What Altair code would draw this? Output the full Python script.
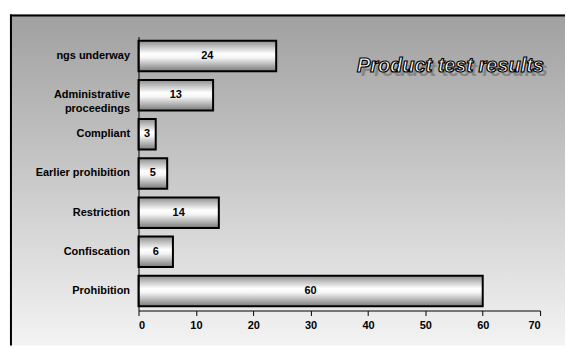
import altair as alt
import pandas as pd

categories = ["ngs underway", "Administrative proceedings", "Compliant",
              "Earlier prohibition", "Restriction", "Confiscation", "Prohibition"]
values = [24, 13, 3, 5, 14, 6, 60]
x_ticks = [0, 10, 20, 30, 40, 50, 60, 70]
title_text = "Product test results"

df = pd.DataFrame({"category": categories, "count": values})

W, H = 403, 275
FONT = "Liberation Sans"

bg_grad = alt.LinearGradient(
    gradient="linear", x1=0, x2=0, y1=0, y2=1,
    stops=[alt.GradientStop(color="#a0a0a0", offset=0),
           alt.GradientStop(color="#f3f3f3", offset=1)])

bar_grad = alt.LinearGradient(
    gradient="linear", x1=0, x2=0, y1=0, y2=1,
    stops=[alt.GradientStop(color="#8e8e8e", offset=0),
           alt.GradientStop(color="#ffffff", offset=0.42),
           alt.GradientStop(color="#f6f6f6", offset=0.55),
           alt.GradientStop(color="#7a7a7a", offset=1)])

one = pd.DataFrame({"t": [title_text]})

bg = alt.Chart(one).mark_rect(fill=bg_grad).encode(
    x=alt.value(-129), x2=alt.value(428), y=alt.value(-22), y2=alt.value(310))

left_border = alt.Chart(one).mark_rule(stroke="black", strokeWidth=2).encode(
    x=alt.value(-128), y=alt.value(-22), y2=alt.value(310))
top_border = alt.Chart(one).mark_rule(stroke="black", strokeWidth=2).encode(
    x=alt.value(-129), x2=alt.value(428), y=alt.value(-21))

y_enc = alt.Y("category:N", sort=categories,
              scale=alt.Scale(paddingInner=0.22, paddingOuter=0.11),
              axis=alt.Axis(title=None, ticks=False, labelPadding=9, zindex=1,
                            labelExpr="datum.label == 'Administrative proceedings' ? ['Administrative', 'proceedings'] : datum.label",
                            labelLineHeight=14))
x_enc = alt.X("count:Q", scale=alt.Scale(domain=[0, 70]),
              axis=alt.Axis(title=None, values=x_ticks, tickSize=5, grid=False,
                            labelPadding=4, zindex=1))

bars = alt.Chart(df).mark_bar(fill=bar_grad, stroke="black", strokeWidth=2).encode(
    y=y_enc, x=x_enc)

labels = alt.Chart(df).transform_calculate(mid="datum.count / 2").mark_text(
    font=FONT, fontSize=11, fontWeight="bold", color="black").encode(
    y=alt.Y("category:N", sort=categories), x=alt.X("mid:Q"), text="count:Q")

title_font = "Liberation Sans"
shadow = alt.Chart(one).mark_text(
    font=title_font, fontSize=20, fontStyle="italic", fontWeight="bold",
    fill="#7d7d7d", opacity=0.8, align="center", baseline="middle").encode(
    x=alt.value(317), y=alt.value(34), text="t:N")
title = alt.Chart(one).mark_text(
    font=title_font, fontSize=20, fontStyle="italic", fontWeight="bold",
    fill="white", stroke="black", strokeWidth=1.2, align="center",
    baseline="middle").encode(
    x=alt.value(313), y=alt.value(30), text="t:N")

chart = alt.layer(bg, left_border, top_border, bars, labels, shadow, title).properties(
    width=W, height=H, padding={"left": 9, "top": 13, "right": 0, "bottom": 0}
).configure_view(stroke=None).configure_axis(
    domainColor="black", tickColor="black", labelColor="black",
    labelFont=FONT, labelFontSize=11, labelFontWeight="bold"
)

chart.save("out.html", embed_options={"renderer": "svg", "actions": False})
